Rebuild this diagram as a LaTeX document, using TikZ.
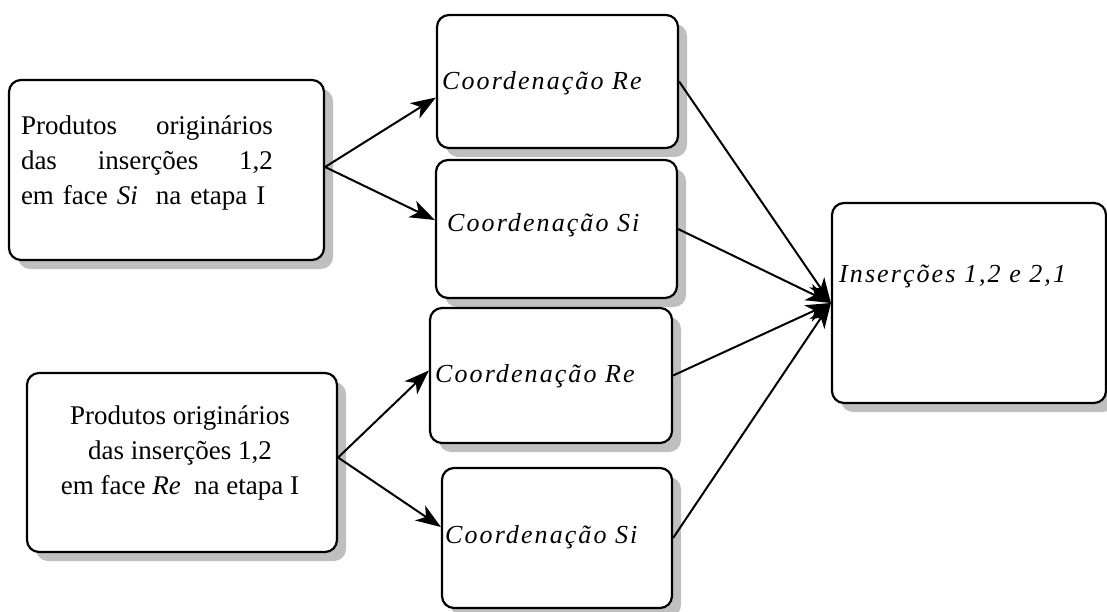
\documentclass[tikz,border=0pt]{standalone}
\usepackage{fontspec}
\setmainfont{Liberation Serif}
\usetikzlibrary{arrows.meta,shadows,calc}
\begin{document}
\begin{tikzpicture}[x=1pt,y=-1pt,
  box/.style={draw, line width=2.2pt, rounded corners=12pt, fill=white,
    general shadow={fill=black!25, shadow xshift=9pt, shadow yshift=-9pt}, inner sep=0pt},
  conn/.style={line width=2pt, -{Stealth[length=25pt,width=18pt,inset=7pt]}},
  coordtxt/.style={inner sep=0pt, anchor=base west,
    font=\fontsize{26}{28}\selectfont\itshape\addfontfeatures{LetterSpace=8}},
  prodtxt/.style={inner sep=0pt, font=\fontsize{27}{35}\selectfont}]
\useasboundingbox (0,0) rectangle (1107,612);
% boxes
\node[box, minimum width=315pt, minimum height=180pt] (A) at (166.5,170) {};
\node[box, minimum width=241pt, minimum height=133pt] (B1) at (557.5,81.5) {};
\node[box, minimum width=241pt, minimum height=138pt] (B2) at (556.5,229) {};
\node[box, minimum width=242pt, minimum height=135pt] (C1) at (551,375.5) {};
\node[box, minimum width=230pt, minimum height=140pt] (C2) at (557,538) {};
\node[box, minimum width=310pt, minimum height=179pt] (D) at (182,462.5) {};
\node[box, minimum width=274pt, minimum height=200pt] (E) at (969,303) {};
% connectors
\draw[conn] ($(A.east)+(0,-3)$) -- ($(B1.west)+(0,16)$);
\draw[conn] ($(A.east)+(0,-3)$) -- ($(B2.west)+(0,-9)$);
\draw[conn] ($(D.east)+(0,-5)$) -- ($(C1.west)+(0,-5)$);
\draw[conn] ($(D.east)+(0,-5)$) -- ($(C2.west)+(0,-11)$);
\draw[conn] (B1.east) -- (E.west);
\draw[conn] (B2.east) -- (E.west);
\draw[conn] (C1.east) -- (E.west);
\draw[conn] (C2.east) -- (E.west);
% texts
\node[prodtxt, text width=252pt, align=left, anchor=center] (tA) at (147,163)
  {Produtos\hfill originários\\das\hfill inserções\hfill 1,2\\em face \textit{Si}\ \ na etapa I};
\node[prodtxt, align=center, anchor=center] (tD) at (180,453)
  {Produtos originários\\das inserções 1,2\\em face \textit{Re}\ \ na etapa I};
\node[coordtxt] (tB1) at (442,90) {Coordenação Re};
\node[coordtxt] (tB2) at (447,232) {Coordenação Si};
\node[coordtxt] (tC1) at (435,382) {Coordenação Re};
\node[coordtxt] (tC2) at (445,543) {Coordenação Si};
\node[coordtxt] (tE) at (839,282) {Inserções 1,2 e 2,1};
\end{tikzpicture}
\end{document}
